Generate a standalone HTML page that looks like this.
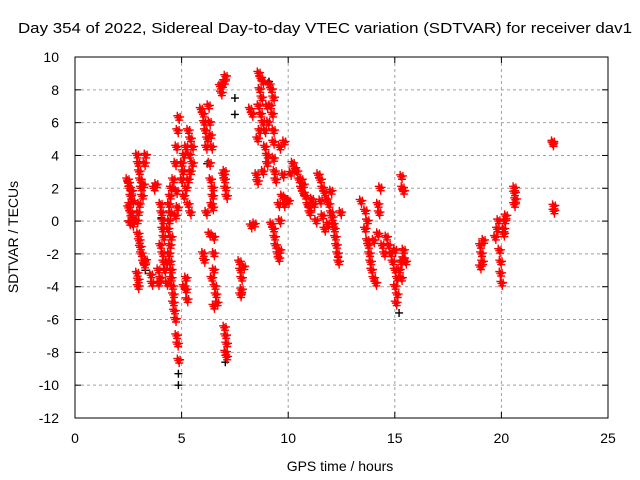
<!DOCTYPE html>
<html><head><meta charset="utf-8"><style>
body{margin:0;background:#fff}
svg{display:block;font-family:"Liberation Sans",sans-serif}
</style></head><body>
<svg id="c" width="640" height="480"></svg>
<script>
const xTicks=[0,5,10,15,20,25];
const yTicks=[-12,-10,-8,-6,-4,-2,0,2,4,6,8,10];
const blackT=[4.85,4.85,7.05,7.5,7.5,15.2,7.8,4.05,6.2,9.1,2.5,3.3,12.35];
const blackV=[-9.3,-10.0,-8.6,6.5,7.5,-5.6,-4.5,0.2,3.5,8.5,0.0,-3.0,-2.2];
const redT=[2.45,2.5,2.55,2.6,2.55,2.5,2.6,2.65,2.7,2.55,2.65,2.7,
2.9,2.95,3.0,3.05,3.1,3.2,3.25,3.3,3.15,3.0,2.95,2.9,2.95,3.0,3.05,3.1,3.2,3.25,2.9,2.95,2.95,3.3,
3.8,3.7,4.0,4.05,4.1,4.1,4.15,4.0,4.1,4.15,4.2,4.0,3.9,3.9,4.3,4.3,3.55,3.6,
4.85,4.8,4.75,4.7,4.6,4.5,4.45,4.4,4.45,4.4,4.35,4.5,4.45,4.4,4.45,4.5,4.5,4.55,4.6,4.6,4.65,4.7,4.75,4.8,4.85,4.7,4.8,4.75,
5.0,5.05,5.1,5.2,5.3,5.4,5.35,5.4,5.3,5.2,5.3,5.4,5.1,5.0,5.5,5.5,5.2,5.2,5.25,5.1,
5.9,6.0,6.05,6.1,6.2,6.3,6.35,6.4,6.25,6.15,6.3,6.35,6.45,6.0,6.05,6.15,6.5,6.5,6.5,6.55,6.6,6.65,6.5,6.4,6.3,6.4,6.45,6.45,
6.8,6.9,7.0,7.05,6.85,7.0,7.0,7.05,7.1,6.95,7.0,7.05,7.1,7.05,7.1,
7.7,7.75,7.8,7.8,7.75,7.9,8.2,8.3,8.25,8.4,8.5,8.55,
8.6,8.7,8.8,8.65,8.75,8.6,8.7,8.8,8.65,8.55,8.9,9.0,9.1,9.2,9.3,9.25,9.3,9.3,8.9,9.0,9.05,9.15,9.0,8.8,9.3,9.35,9.4,9.2,9.3,9.4,9.5,9.55,9.35,9.6,9.6,9.55,9.7,9.8,9.9,10.0,9.75,9.8,9.6,10.1,
10.2,10.3,10.4,10.5,10.6,10.7,10.8,10.9,11.0,11.1,11.2,10.6,10.7,11.0,11.3,
11.4,11.5,11.6,11.7,11.8,11.9,12.0,12.05,12.1,12.15,12.2,12.25,12.3,12.35,11.5,11.6,11.7,12.45,12.0,11.85,
13.4,13.6,13.7,13.6,13.7,13.75,13.8,13.85,13.9,14.0,14.1,14.2,14.25,14.2,14.3,14.4,14.5,14.0,
14.6,14.7,14.8,14.9,15.0,15.1,15.0,15.1,15.05,15.3,15.4,15.5,15.2,15.3,15.0,15.4,15.3,15.35,15.4,
19.0,19.05,19.1,19.0,19.15,19.7,19.8,19.85,19.9,19.95,19.95,20.0,20.1,20.15,20.2,20.1,
20.6,20.6,20.65,20.6,22.4,22.4,22.45,22.45];
const redV=[2.5,2.3,2.0,1.5,1.0,0.8,0.5,0.2,-0.2,-0.1,1.8,1.2,
4.0,3.5,3.0,2.5,2.0,2.2,3.5,4.0,1.5,1.0,0.5,0,-0.8,-1.2,-1.6,-2.0,-2.5,-2.7,-3.2,-3.6,-4.0,-2.4,
2.2,2.0,1.0,0.5,0,-0.5,-1.0,-1.5,-2.0,-2.5,-3.0,-3.5,-3.0,-3.8,-3.8,-2.5,-3.3,-3.8,
6.3,5.5,4.5,3.5,2.5,2.0,1.5,1.0,0.5,0,-0.5,-1.0,-1.5,-2.0,-2.5,-3.0,-3.5,-4.0,-4.5,-5.0,-5.5,-6.0,-7.0,-7.5,-8.5,0.3,0.8,1.8,
3.5,3.0,4.0,4.5,5.5,5.0,4.0,3.0,2.5,2.0,1.0,0.5,1.5,2.5,4.5,3.5,-3.5,-4.2,-4.8,-4.0,
6.8,6.5,6.0,5.5,5.0,6.0,5.2,4.5,7.0,4.5,3.5,2.5,2.0,-2.0,-2.4,0.5,-1.0,-2.0,-3.0,-4.0,-4.5,-5.0,-5.2,-3.5,-0.8,1.0,1.5,0.8,
8.2,8.3,8.5,8.8,7.8,3.0,2.5,2.0,1.5,2.8,-6.5,-7.0,-7.5,-8.0,-8.3,
-2.5,-3.0,-3.5,-4.2,-4.5,-2.8,6.8,6.5,-0.3,-0.2,2.8,2.4,
9.0,8.7,8.5,8.0,7.5,7.0,6.5,6.0,5.5,5.0,5.5,7.0,8.3,8.0,7.5,6.5,5.5,4.8,4.5,4.0,6.0,7.0,3.5,3.0,3.8,3.0,2.5,-0.2,-0.5,-1.5,-2.0,-2.3,-1.0,-1.8,0.0,1.0,1.5,1.0,1.3,1.2,2.8,4.8,4.5,2.9,
3.5,3.2,3.0,2.5,2.0,2.2,1.5,1.0,0.8,1.3,1.0,2.5,1.7,0.5,0.0,
2.8,2.5,2.0,1.7,1.3,1.0,0.5,0.2,-0.2,-0.5,-1.0,-1.5,-2.0,-2.5,1.2,0.3,-0.5,0.5,1.8,-0.2,
1.2,0.6,0.0,-0.5,-1.2,-1.5,-2.0,-2.5,-3.0,-3.5,-3.8,-0.8,0.5,1.0,2.0,-1.5,-2.0,-1.2,
-1.0,-1.5,-2.0,-2.5,-3.0,-3.5,-4.0,-4.5,-5.0,-2.5,-2.3,-2.5,-3.0,-3.5,-1.8,-1.8,2.7,2.0,1.8,
-1.5,-2.0,-2.5,-2.8,-1.2,-1.0,-0.5,0.0,-1.8,-2.5,-3.2,-3.8,-0.5,0.0,0.3,-0.8,
2.0,1.7,1.3,1.0,4.8,4.7,0.9,0.6];

const L=75,R=608,T=57,B=418;
const X=t=>L+(t-0)/(25-0)*(R-L);
const Y=v=>B-(v+12)/(22)*(B-T);
const NS='http://www.w3.org/2000/svg';
const svg=document.getElementById('c');
function mk(tag,attrs,txt){const e=document.createElementNS(NS,tag);for(const k in attrs)e.setAttribute(k,attrs[k]);if(txt!==undefined)e.textContent=txt;svg.appendChild(e);return e;}
xTicks.forEach(t=>{const x=X(t);
 if(t>0&&t<25){const g=mk('line',{x1:x,x2:x,y1:T,y2:B,stroke:'#a0a0a0','stroke-dasharray':'3,3'});
 
 }
 const tk=mk('line',{x1:x,x2:x,y1:B,y2:B-6,stroke:'#000'});
 
 
 const tk2=mk('line',{x1:x,x2:x,y1:T,y2:T+6,stroke:'#000'});
 
 
 const lb=mk('text',{x:x,y:443,'text-anchor':'middle','font-size':14},String(t));
 
 
});
yTicks.forEach(v=>{const y=Y(v);
 if(v>-12&&v<10){const g=mk('line',{x1:L,x2:R,y1:y,y2:y,stroke:'#a0a0a0','stroke-dasharray':'3,3'});
 
 }
 const tk=mk('line',{x1:L,x2:L+6,y1:y,y2:y,stroke:'#000'});
 
 
 const tk2=mk('line',{x1:R,x2:R-6,y1:y,y2:y,stroke:'#000'});
 
 
 const lb=mk('text',{x:L-16,y:y+5,'text-anchor':'end','font-size':14},String(v));
 
 
});
const fr=mk('rect',{x:L,y:T,width:R-L,height:B-T,fill:'none',stroke:'#000'});


function plus(t,v,col,name){const x=X(t),y=Y(v);
 const p=mk('path',{d:`M${x-4},${y}h8M${x},${y-4}v8`,stroke:col,'stroke-width':1.4,fill:'none'});
 
 }
blackT.forEach((t,i)=>plus(t,blackV[i],'#000','black-point'));
redT.forEach((t,i)=>{
 plus(t,redV[i],'#f00','red-point');
 plus(t+0.04,redV[i]-0.15,'#f00','red-point');
 plus(t-0.05,redV[i]+0.12,'#f00','red-point');
 plus(t+0.08,redV[i]+0.05,'#f00','red-point');
});
const ti=mk('text',{x:18,y:33,'font-size':15,textLength:614,lengthAdjust:'spacingAndGlyphs'},'Day 354 of 2022, Sidereal Day-to-day VTEC variation (SDTVAR) for receiver dav1');


const xl=mk('text',{x:340,y:471,'text-anchor':'middle','font-size':14},'GPS time / hours');


const yl=mk('text',{x:18,y:237,'text-anchor':'middle','font-size':14,transform:'rotate(-90 18 237)'},'SDTVAR / TECUs');


</script>
</body></html>
